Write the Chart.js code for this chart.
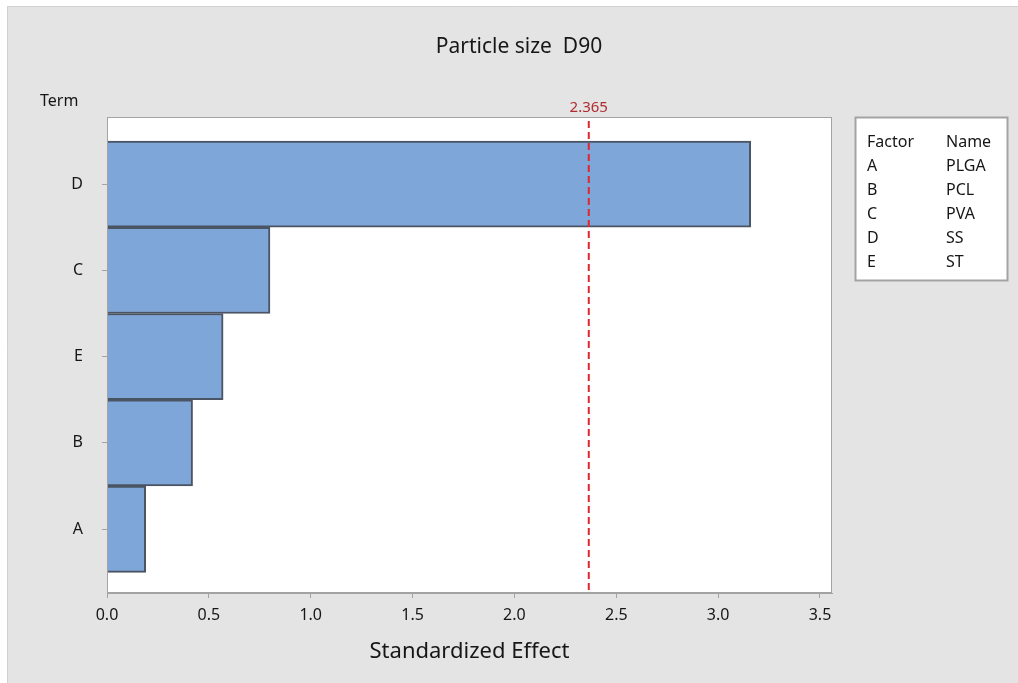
<!DOCTYPE html>
<html>
<head>
<meta charset="utf-8">
<title>Particle size D90</title>
<script src="https://cdn.jsdelivr.net/npm/chart.js@4.4.1/dist/chart.umd.min.js"></script>
<style>
  html, body { margin: 0; padding: 0; background: #ffffff; }
  #wrap { width: 1018px; height: 683px; position: relative; }
</style>
</head>
<body>
<div id="wrap"><canvas id="chart" width="1018" height="683"></canvas></div>
<script>
// Pareto of standardized effects, top to bottom
const terms = ['D', 'C', 'E', 'B', 'A'];
const effects = [3.16, 0.80, 0.57, 0.42, 0.19];
const criticalValue = 2.365;
const xTicks = [0, 0.5, 1.0, 1.5, 2.0, 2.5, 3.0, 3.5];
const factorLetters = ['A', 'B', 'C', 'D', 'E'];
const factorNames = ['PLGA', 'PCL', 'PVA', 'SS', 'ST'];

const FONT = '"Noto Sans", "Open Sans", sans-serif';
const FRAME = '#a3a3a3';
const TEXT = '#161616';

const backdrop = {
  id: 'backdrop',
  beforeDraw(chart) {
    const { ctx, width, height, chartArea: a } = chart;
    ctx.save();
    ctx.fillStyle = '#ffffff';
    ctx.fillRect(0, 0, width, height);
    ctx.fillStyle = '#e4e4e4';
    ctx.fillRect(7, 6, width - 7, height - 6);
    ctx.strokeStyle = '#d2d2d2';
    ctx.lineWidth = 1;
    ctx.beginPath();
    ctx.moveTo(7.5, height);
    ctx.lineTo(7.5, 6.5);
    ctx.lineTo(width, 6.5);
    ctx.stroke();
    ctx.fillStyle = '#ffffff';
    ctx.fillRect(a.left, a.top, a.right - a.left, a.bottom - a.top);
    ctx.restore();
  }
};

const decorations = {
  id: 'decorations',
  afterDatasetsDraw(chart) {
    const { ctx, chartArea: a, scales: { x } } = chart;
    ctx.save();
    // plot frame
    ctx.strokeStyle = FRAME;
    ctx.lineWidth = 1;
    ctx.strokeRect(a.left + 0.5, a.top + 0.5, a.right - a.left - 1, a.bottom - a.top - 1);

    // critical value reference line
    const cx = x.getPixelForValue(criticalValue);
    ctx.strokeStyle = '#e0262e';
    ctx.lineWidth = 2;
    ctx.setLineDash([7, 4]);
    ctx.beginPath();
    ctx.moveTo(cx, a.top + 4);
    ctx.lineTo(cx, a.bottom);
    ctx.stroke();
    ctx.setLineDash([]);
    ctx.fillStyle = '#b02a30';
    ctx.font = '15px ' + FONT;
    ctx.textAlign = 'center';
    ctx.textBaseline = 'middle';
    ctx.fillText(criticalValue.toFixed(3), cx, 108);

    // title and row header
    ctx.fillStyle = TEXT;
    ctx.font = '21px ' + FONT;
    ctx.fillText('Particle size  D90', 519, 47);
    ctx.font = '16px ' + FONT;
    ctx.textAlign = 'left';
    ctx.fillText('Term', 40, 101);

    // factor key
    const bx = 855.5, by = 117.5, bw = 152, bh = 163;
    ctx.fillStyle = '#ffffff';
    ctx.fillRect(bx, by, bw, bh);
    ctx.strokeStyle = FRAME;
    ctx.strokeRect(bx, by, bw, bh);
    ctx.fillStyle = TEXT;
    ctx.font = '16px ' + FONT;
    ctx.fillText('Factor', 867, 142);
    ctx.fillText('Name', 946, 142);
    factorLetters.forEach((f, i) => {
      const y = 166 + i * 24;
      ctx.fillText(f, 867, y);
      ctx.fillText(factorNames[i], 946, y);
    });
    ctx.restore();
  }
};

new Chart(document.getElementById('chart'), {
  type: 'bar',
  data: {
    datasets: [{
      data: effects.map((v, i) => ({ x: v, y: i })),
      backgroundColor: '#7ea6d9',
      borderColor: '#4a5462',
      borderWidth: 2,
      barPercentage: 1,
      categoryPercentage: 1
    }]
  },
  options: {
    indexAxis: 'y',
    responsive: false,
    animation: false,
    events: [],
    layout: { padding: { left: 0, right: 186, top: 117, bottom: 0 } },
    plugins: { legend: { display: false }, tooltip: { enabled: false }, title: { display: false } },
    scales: {
      x: {
        type: 'linear',
        min: 0,
        max: 3.559,
        afterBuildTicks: axis => { axis.ticks = xTicks.map(v => ({ value: v })); },
        afterFit: axis => { axis.height = 90; },
        grid: { drawOnChartArea: false, drawTicks: true, tickLength: 5, color: FRAME },
        border: { display: true, color: FRAME },
        ticks: {
          padding: 8,
          color: TEXT,
          font: { family: FONT, size: 16 },
          maxRotation: 0,
          callback: v => Number(v).toFixed(1)
        },
        title: {
          display: true,
          text: 'Standardized Effect',
          color: TEXT,
          font: { family: FONT, size: 22 },
          padding: { top: 0, bottom: 18 }
        }
      },
      y: {
        type: 'linear',
        reverse: true,
        offset: false,
        min: -0.778,
        max: 4.74,
        afterBuildTicks: axis => { axis.ticks = terms.map((t, i) => ({ value: i })); },
        afterFit: axis => { axis.width = 107; },
        grid: { offset: false, drawOnChartArea: false, drawTicks: true, tickLength: 5, color: FRAME },
        border: { display: true, color: FRAME },
        ticks: {
          padding: 19,
          color: TEXT,
          font: { family: FONT, size: 16 },
          callback: v => terms[v] ?? ''
        }
      }
    }
  },
  plugins: [backdrop, decorations]
});
</script>
</body>
</html>
